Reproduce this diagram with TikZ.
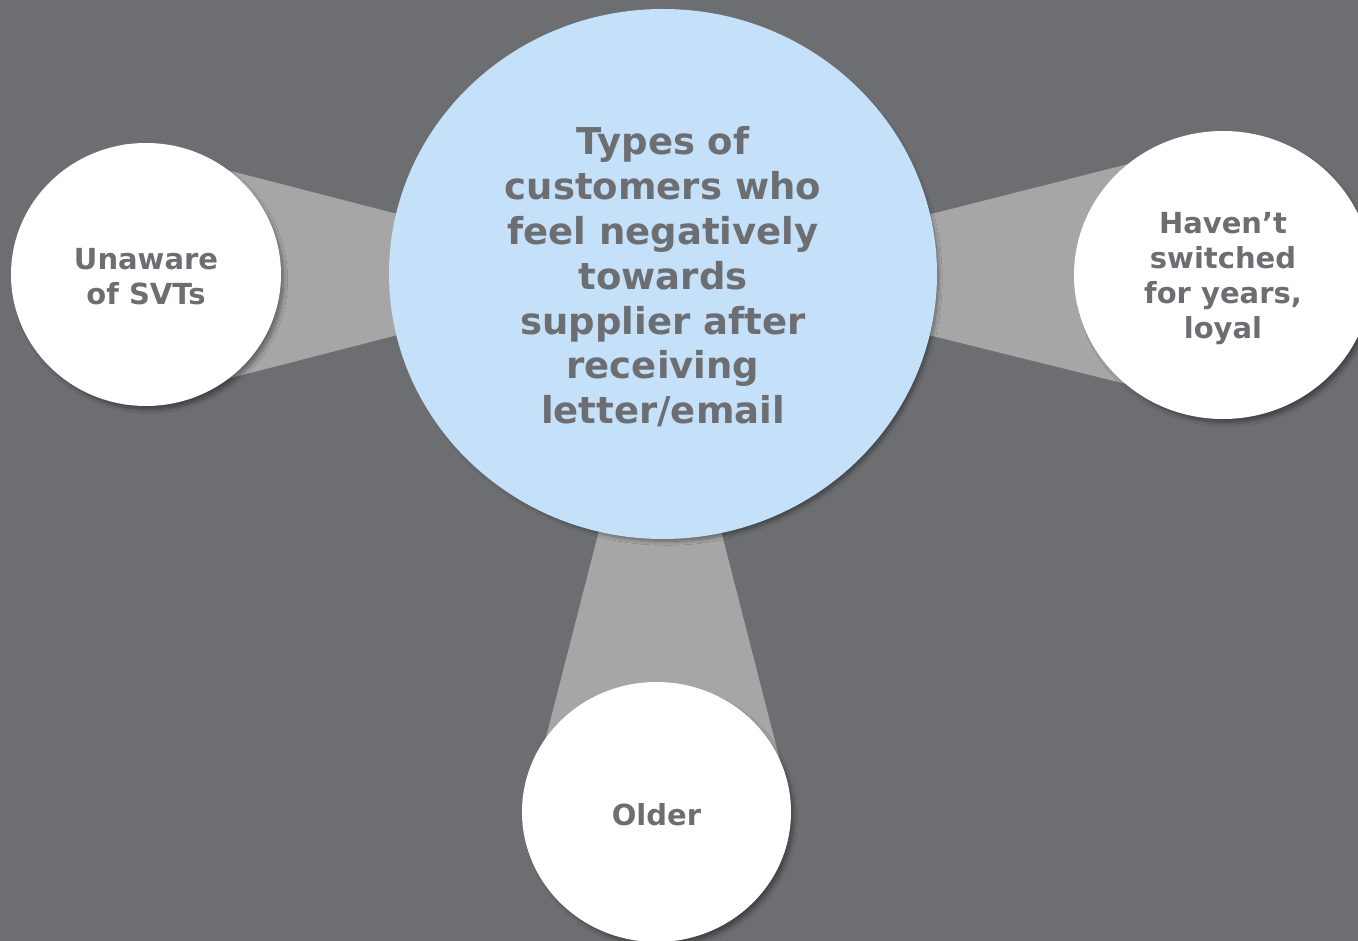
\documentclass[tikz,border=0pt]{standalone}
\usepackage{fontspec}
\setmainfont{DejaVu Sans}
\usetikzlibrary{shapes.geometric,calc,shadows.blur}
\definecolor{bggray}{HTML}{6D6E72}
\definecolor{linkgray}{HTML}{A6A6A6}
\definecolor{hubblue}{HTML}{C5E0F9}
\definecolor{txtgray}{HTML}{6D6E71}
\tikzset{
  bubble/.style={ellipse, inner sep=0pt,
    blur shadow={shadow xshift=4pt, shadow yshift=-5pt, shadow blur steps=10,
                 shadow blur radius=4pt, shadow scale=0.99, shadow opacity=40}},
  hub/.style={bubble, fill=hubblue},
  leaf/.style={bubble, fill=white},
  hubtext/.style={align=center, text=txtgray, inner sep=0pt,
    font=\bfseries\fontsize{37}{44.8}\selectfont},
  leaftext/.style={align=center, text=txtgray, inner sep=0pt,
    font=\bfseries\fontsize{29}{35}\selectfont},
  link/.style={fill=linkgray, draw=none}
}
\begin{document}
\begin{tikzpicture}[x=1pt, y=-1pt]
  \fill[bggray] (0,0) rectangle (1358,941);
  \useasboundingbox (0,0) rectangle (1358,941);

  % anchor points for the satellites (links are drawn first, bubbles on top)
  \coordinate (Lc) at (146,274.5);
  \coordinate (Rc) at (1223,275);
  \coordinate (Bc) at (656.5,812);

  % tapered links from each satellite towards the hub
  \fill[link] ($(Lc)+(-22,-131)$) -- ($(Lc)+(304,-47)$) -- ($(Lc)+(304,47)$) -- ($(Lc)+(-22,131)$) -- cycle;
  \fill[link] ($(Rc)+(0,-135)$) -- ($(Rc)+(-343,-48)$) -- ($(Rc)+(-343,48)$) -- ($(Rc)+(0,133)$) -- cycle;
  \fill[link] ($(Bc)+(-44.5,-332)$) -- ($(Bc)+(51.5,-332)$) -- ($(Bc)+(128.5,-32)$) -- ($(Bc)+(-121.5,-32)$) -- cycle;

  % hub
  \node[hub, minimum width=548pt, minimum height=530pt] (hub) at (663,274) {};
  \node[hubtext] (hubt) at ($(hub.center)+(0,3)$)
    {Types of\\customers who\\feel negatively\\towards\\supplier after\\receiving\\letter/email};

  % satellites
  \node[leaf, minimum width=270pt, minimum height=263pt] (unaware) at (Lc) {};
  \node[leaftext] (unawaret) at ($(unaware.center)+(0,2.5)$) {Unaware\\of SVTs};
  \node[leaf, minimum width=298pt, minimum height=288pt] (loyal) at (Rc) {};
  \node[leaftext] (loyalt) at ($(loyal.center)+(0,4)$) {Haven’t\\switched\\for years,\\loyal};
  \node[leaf, minimum width=269pt, minimum height=260pt] (older) at (Bc) {};
  \node[leaftext] (oldert) at ($(older.center)+(0,3)$) {Older};
\end{tikzpicture}
\end{document}
